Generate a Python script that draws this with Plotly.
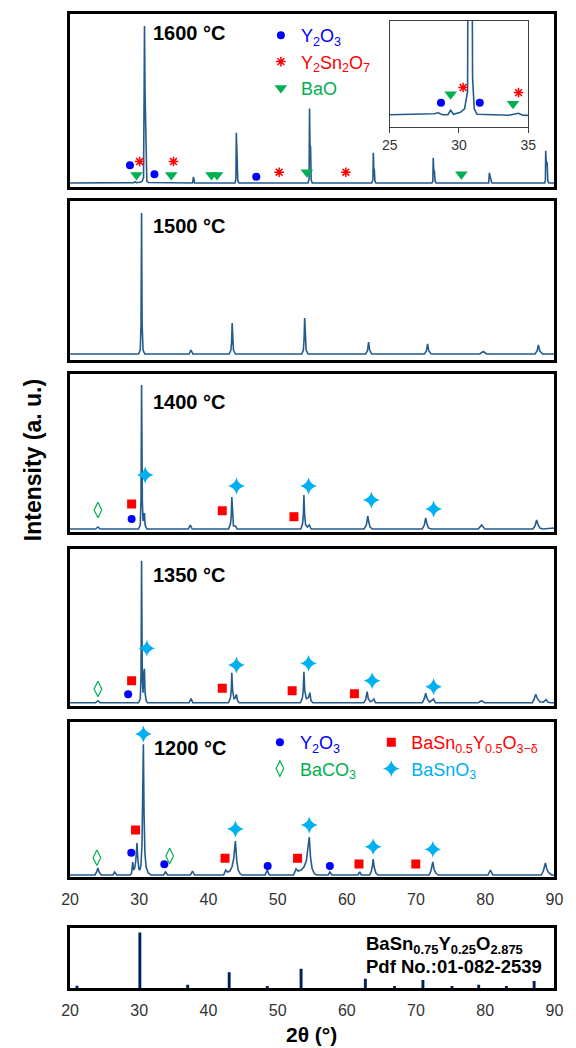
import plotly.graph_objects as go

W, H = 576, 1048
FONT = "Arial, 'Liberation Sans', sans-serif"
CURVE = "#245B8E"

# ---------------- XRD patterns: 2θ (deg) and intensity (a.u.) ----------------
tt_1600 = [20.0, 24.0, 26.3, 27.2, 28.2, 28.5, 28.8, 29.2, 29.4, 29.6, 30.1, 30.40, 30.52, 30.62,
           30.70, 30.76, 30.84, 30.90, 30.98, 31.10, 31.3, 32.5, 33.6, 34.3, 34.6, 37.7, 37.84, 38.0,
           43.85, 43.97, 44.03, 44.10, 44.17, 44.25, 44.4, 54.4, 54.55, 54.61, 54.68, 54.76, 54.85,
           55.0, 63.6, 63.77, 63.83, 63.90, 63.98, 64.06, 64.2, 72.3, 72.43, 72.49, 72.56, 72.66,
           72.75, 72.9, 80.5, 80.6, 80.7, 80.82, 80.9, 81.0, 88.6, 88.7, 88.74, 88.82, 88.95, 89.05,
           89.2, 90.0]
i_1600 = [0, 0.2, 0.4, 0.3, 0.5, 0.7, 0.3, 0.3, 1.2, 0.4, 0.8, 1.5, 3.5, 5,
          80, 156, 90, 70, 8, 1.5, 0.4, 0.3, 0.2, 0.6, 0.2, 0, 6, 0,
          0, 4, 50, 26, 24, 2, 0, 0, 4, 74, 38, 36, 3,
          0, 0, 3, 30, 15, 13, 2, 0, 0, 2, 25, 13, 12,
          2, 0, 0, 10, 6, 5, 1, 0, 0, 3, 32, 21, 20, 2,
          0, 0]

tt_1500 = [20.0, 29.9, 30.15, 30.26, 30.34, 30.42, 30.55, 30.8, 37.2, 37.48, 37.75, 43.0, 43.25,
           43.35, 43.43, 43.5, 43.62, 43.9, 53.5, 53.72, 53.82, 53.91, 54.0, 54.12, 54.4, 62.7,
           62.98, 63.15, 63.3, 63.6, 71.2, 71.5, 71.67, 71.85, 72.2, 79.2, 79.72, 80.2, 87.2, 87.5,
           87.68, 87.9, 88.3, 90.0]
i_1500 = [0, 0, 4, 30, 141, 30, 4, 0, 0, 4, 0, 0, 4,
          12, 31, 12, 4, 0, 0, 4, 14, 36, 14, 4, 0, 0,
          3, 12, 4, 0, 0, 3, 10, 3, 0, 0, 2.5, 0, 0, 3,
          9, 3, 0, 0]

tt_1400 = [20.0, 23.7, 24.03, 24.35, 29.9, 30.15, 30.26, 30.34, 30.45, 30.55, 30.68, 30.75, 30.85,
           31.1, 37.1, 37.38, 37.65, 42.9, 43.18, 43.3, 43.38, 43.48, 43.62, 43.9, 44.15, 53.35,
           53.6, 53.72, 53.8, 53.9, 54.05, 54.3, 54.57, 54.85, 62.5, 62.82, 62.95, 63.04, 63.15,
           63.35, 63.7, 70.9, 71.2, 71.4, 71.55, 71.8, 72.2, 79.0, 79.47, 79.95, 86.9, 87.2, 87.43,
           87.6, 87.9, 88.3, 90.0]
i_1400 = [0, 0, 2, 0, 0, 4, 30, 144, 28, 8, 12, 16, 4,
          0, 0, 4, 0, 0, 5, 13, 32, 13, 3, 3, 0, 0,
          5, 14, 34, 14, 4, 2, 4, 0, 0, 4, 9, 13, 8,
          2, 0, 0, 4, 11, 6, 1, 0, 0, 4, 0, 0, 3, 9,
          5, 1, 0, 1]

tt_1350 = [20.0, 23.7, 24.03, 24.35, 29.9, 30.15, 30.26, 30.34, 30.44, 30.55, 30.66, 30.75, 30.84,
           31.0, 31.2, 37.2, 37.48, 37.75, 42.9, 43.18, 43.3, 43.38, 43.5, 43.7, 43.9, 44.05, 44.2,
           44.45, 53.3, 53.58, 53.7, 53.8, 53.92, 54.15, 54.45, 54.66, 54.82, 55.1, 62.45, 62.72,
           62.94, 63.1, 63.4, 63.7, 63.92, 64.15, 70.9, 71.2, 71.4, 71.6, 71.95, 72.3, 72.54, 72.8,
           79.0, 79.47, 79.9, 86.8, 87.1, 87.3, 87.55, 87.9, 88.4, 88.8, 89.1, 89.5, 90.0]
i_1350 = [0, 0, 2, 0, 0, 4, 28, 142, 26, 10, 30, 34, 10,
          2, 0, 0, 4, 0, 0, 5, 12, 30, 12, 4, 5, 8.4, 2,
          0, 0, 5, 12, 31, 12, 4, 5, 10, 2, 0, 0, 3,
          11, 4, 1, 2, 3.7, 0, 0, 4, 9.4, 4, 0.5, 2, 3.7, 0,
          0, 2, 0, 0, 4, 8.4, 4, 1, 0.5, 3, 0.5, 0, 0]

tt_1200 = [20.0, 23.6, 23.85, 24.03, 24.2, 24.5, 26.2, 26.45, 26.75, 28.7, 28.9, 29.06, 29.18, 29.35,
           29.5, 29.68, 29.8, 29.95, 30.1, 30.25, 30.4, 30.5, 30.6, 30.7, 30.82, 31.0, 31.3, 31.7,
           33.5, 33.8, 34.1, 37.4, 37.7, 38.0, 42.2, 42.5, 42.75, 43.1, 43.4, 43.65, 43.9, 44.1,
           44.3, 44.6, 44.9, 48.2, 48.5, 48.8, 52.3, 52.67, 52.95, 53.4, 53.8, 54.15, 54.4, 54.57,
           54.75, 55.0, 55.35, 55.7, 57.3, 57.55, 57.85, 61.6, 61.86, 62.1, 63.3, 63.55, 63.7, 63.81,
           63.95, 64.2, 64.5, 71.9, 72.15, 72.3, 72.43, 72.6, 72.85, 73.2, 80.4, 80.75, 81.1, 88.1,
           88.4, 88.7, 88.9, 89.2, 89.6, 90.0]
i_1200 = [0, 0, 3, 7, 3, 0, 0, 3, 0, 0, 2, 13, 5, 7,
          14, 32, 16, 6, 5, 10, 30, 80, 130.7, 60, 22, 8, 2, 0,
          0, 3, 0, 0, 4, 0, 0, 5, 3, 4, 8, 16, 34, 14,
          5, 1, 0, 0, 5, 0, 0, 6, 4, 5, 8, 14, 26, 38,
          18, 6, 1, 0, 0, 3, 0, 0, 3, 0, 0, 4, 9, 16,
          8, 2, 0, 0, 4, 8, 13, 6, 2, 0, 0, 5, 0, 0,
          4, 12, 6, 2, 0, 0]

# Reference pattern BaSn0.75Y0.25O2.875 (Pdf 01-082-2539), relative intensity
ref_tt = [21.0, 30.09, 37.0, 43.0, 48.5, 53.39, 62.68, 66.9, 71.0, 75.2, 79.06, 83.06, 87.07]
ref_int = [4.0, 100, 5.7, 28.3, 3.5, 34.7, 16.8, 3.5, 14.4, 3.5, 5.7, 3.5, 12.7]

# ---------------- Phase markers: (2θ, intensity) per pattern ----------------
m1600_y2o3_tt, m1600_y2o3_i = [28.66, 32.2, 46.92], [17.7, 8.7, 6.3]
m1600_y2sn2o7_tt, m1600_y2sn2o7_i = [30.06, 34.95, 50.22, 59.86], [21.3, 21.3, 10.7, 10.7]
m1600_bao_tt, m1600_bao_i = [29.6, 34.63, 40.44, 41.24, 54.23, 76.55], [8, 8, 8, 8, 10.7, 8.7]

# zoomed view of the 1600 °C pattern, 25-35°
ins_y2o3_tt, ins_y2o3_i = [28.7, 31.5], [2.76, 2.76]
ins_bao_tt, ins_bao_i = [29.4, 33.9], [4.46, 2.55]
ins_y2sn2o7_tt, ins_y2sn2o7_i = [30.3, 34.3], [5.84, 4.81]

m1400_baco3_tt, m1400_baco3_i = [24.03], [19]
m1400_bsy_tt, m1400_bsy_i = [28.9, 42.0, 52.36], [25, 18.3, 12.3]
m1400_y2o3_tt, m1400_y2o3_i = [28.9], [10]
m1400_bso_tt, m1400_bso_i = [30.86, 44.05, 54.47, 63.55, 72.54], [54, 43, 43, 29, 20]

m1350_baco3_tt, m1350_baco3_i = [24.03], [13.7]
m1350_y2o3_tt, m1350_y2o3_i = [28.4], [8.4]
m1350_bsy_tt, m1350_bsy_i = [28.9, 42.0, 52.1, 61.1], [22, 14.4, 12, 9]
m1350_bso_tt, m1350_bso_i = [31.1, 44.05, 54.47, 63.66, 72.54], [54.4, 37.7, 39.4, 22, 16]

m1200_y2o3_tt, m1200_y2o3_i = [28.85, 33.63, 48.56, 57.55], [22.3, 10.7, 9, 9]
m1200_bsy_tt, m1200_bsy_i = [29.47, 42.4, 52.88, 61.76, 69.97], [45, 16.7, 16.7, 11, 11]
m1200_baco3_tt, m1200_baco3_i = [23.88, 34.4], [17.3, 19]
m1200_bso_tt, m1200_bso_i = [30.6, 43.9, 54.57, 63.81, 72.43], [141, 46, 50, 28.3, 25.7]

# ---------------- styles ----------------
BLUE, RED, GREEN, CYAN = "#0000FF", "#FF0000", "#00B050", "#00B0F0"
STY = {
    "y2o3": dict(symbol="circle", size=8, color=BLUE),
    "y2sn2o7": dict(symbol="asterisk-open", size=8, color=RED, line=dict(color=RED, width=1.5)),
    "bao": dict(symbol="triangle-down", size=11, color=GREEN),
    "bsy": dict(symbol="square", size=9, color=RED),
    "baco3": dict(symbol="diamond-tall-open", size=11, color=GREEN, line=dict(color=GREEN, width=1.2)),
    "bso": dict(symbol="star-diamond", size=12, color=CYAN),
}
NAMES = {
    "y2o3": "<span style='color:#0000FF'>Y<sub>2</sub>O<sub>3</sub></span>",
    "y2sn2o7": "<span style='color:#FF0000'>Y<sub>2</sub>Sn<sub>2</sub>O<sub>7</sub></span>",
    "bao": "<span style='color:#00B050'>BaO</span>",
    "bsy": "<span style='color:#FF0000'>BaSn<sub>0.5</sub>Y<sub>0.5</sub>O<sub>3\u2212\u03b4</sub></span>",
    "baco3": "<span style='color:#00B050'>BaCO<sub>3</sub></span>",
    "bso": "<span style='color:#00B0F0'>BaSnO<sub>3</sub></span>",
}

fig = go.Figure()


def curve(tt, inten, k):
    fig.add_trace(go.Scatter(x=tt, y=inten, mode="lines", line=dict(color=CURVE, width=1.6),
                             xaxis=f"x{k}", yaxis=f"y{k}", showlegend=False, hoverinfo="skip"))


def marks(tt, inten, k, phase, legend=None, group=None):
    fig.add_trace(go.Scatter(x=tt, y=inten, mode="markers", marker=STY[phase], name=NAMES[phase],
                             xaxis=f"x{k}", yaxis=f"y{k}", showlegend=legend is not None,
                             legend=legend or "legend", legendgroup=group, hoverinfo="skip"))


curve(tt_1600, i_1600, "")
curve(tt_1500, i_1500, 2)
curve(tt_1400, i_1400, 3)
curve(tt_1350, i_1350, 4)
curve(tt_1200, i_1200, 5)
curve(tt_1600, i_1600, 7)

marks(m1600_y2o3_tt, m1600_y2o3_i, "", "y2o3", "legend", "a")
marks(m1600_y2sn2o7_tt, m1600_y2sn2o7_i, "", "y2sn2o7", "legend", "b")
marks(m1600_bao_tt, m1600_bao_i, "", "bao", "legend", "c")

marks(ins_y2o3_tt, ins_y2o3_i, 7, "y2o3")
marks(ins_bao_tt, ins_bao_i, 7, "bao")
marks(ins_y2sn2o7_tt, ins_y2sn2o7_i, 7, "y2sn2o7")

marks(m1400_baco3_tt, m1400_baco3_i, 3, "baco3")
marks(m1400_bsy_tt, m1400_bsy_i, 3, "bsy")
marks(m1400_y2o3_tt, m1400_y2o3_i, 3, "y2o3")
marks(m1400_bso_tt, m1400_bso_i, 3, "bso")

marks(m1350_baco3_tt, m1350_baco3_i, 4, "baco3")
marks(m1350_y2o3_tt, m1350_y2o3_i, 4, "y2o3")
marks(m1350_bsy_tt, m1350_bsy_i, 4, "bsy")
marks(m1350_bso_tt, m1350_bso_i, 4, "bso")

marks(m1200_y2o3_tt, m1200_y2o3_i, 5, "y2o3", "legend2", "d")
marks(m1200_baco3_tt, m1200_baco3_i, 5, "baco3", "legend2", "e")
marks(m1200_bsy_tt, m1200_bsy_i, 5, "bsy", "legend3", "f")
marks(m1200_bso_tt, m1200_bso_i, 5, "bso", "legend3", "g")

fig.add_trace(go.Bar(x=ref_tt, y=ref_int, width=0.42, marker=dict(color="#002060", line=dict(width=0)),
                     xaxis="x6", yaxis="y6", showlegend=False, hoverinfo="skip"))

# ---------------- axes ----------------
def px_x(p):
    return p / W


def px_y(p):
    return 1 - p / H


XL, XR = 63, 563
panels = {  # key: (top px, bottom px, y-range)
    "": (14, 187, [-4, 168]),
    "2": (201, 360, [-6, 153]),
    "3": (374, 532, [-3, 155]),
    "4": (549, 706, [-3.3, 153.7]),
    "5": (722, 877, [-2, 153]),
    "6": (928, 988, [0, 108]),
}
tickfont = dict(family=FONT, size=16, color="#333333")
layout_axes = {}
for k, (top, bot, yr) in panels.items():
    labelled = k in ("5", "6")
    layout_axes[f"xaxis{k}"] = dict(
        domain=[px_x(XL), px_x(XR)], range=[20, 90], anchor=f"y{k}",
        showline=True, mirror=True, linecolor="black", linewidth=2.5,
        showgrid=False, zeroline=False, ticks="",
        showticklabels=labelled, tickvals=[20, 30, 40, 50, 60, 70, 80, 90],
        tickfont=tickfont, ticklabelstandoff=6)
    layout_axes[f"yaxis{k}"] = dict(
        domain=[px_y(bot), px_y(top)], range=yr, anchor=f"x{k}",
        showline=True, mirror=True, linecolor="black", linewidth=2.5,
        showgrid=False, zeroline=False, showticklabels=False, ticks="")

layout_axes["xaxis7"] = dict(
    domain=[px_x(393), px_x(536)], range=[25, 35], anchor="y7",
    showline=True, mirror=True, linecolor="#404040", linewidth=1.2,
    showgrid=False, zeroline=False, ticks="outside", ticklen=5, tickcolor="#404040",
    tickvals=[25, 30, 35], tickfont=dict(family=FONT, size=14, color="#333333"))
layout_axes["yaxis7"] = dict(
    domain=[px_y(127), px_y(21)], range=[-2.2, 19.4], anchor="x7",
    showline=True, mirror=True, linecolor="#404040", linewidth=1.2,
    showgrid=False, zeroline=False, showticklabels=False, ticks="")

# ---------------- text ----------------
ann = []
for txt, x, y in [("1600 °C", 147, 32.7), ("1500 °C", 147, 225.7), ("1400 °C", 147, 401.7),
                  ("1350 °C", 147, 575), ("1200 °C", 147.5, 748.3)]:
    ann.append(dict(text=f"<b>{txt}</b>", x=px_x(x), y=px_y(y), xref="paper", yref="paper",
                    xanchor="left", yanchor="middle", showarrow=False,
                    font=dict(family=FONT, size=20, color="black")))
ann.append(dict(text="<b>Intensity (a. u.)</b>", x=px_x(25), y=px_y(460), xref="paper", yref="paper",
                textangle=-90, showarrow=False, xanchor="center", yanchor="middle",
                font=dict(family=FONT, size=23, color="black")))
ann.append(dict(text="<b>2\u03b8 (°)</b>", x=px_x(312), y=px_y(1048), xref="paper", yref="paper",
                showarrow=False, xanchor="center", yanchor="bottom",
                font=dict(family=FONT, size=21, color="black")))
ann.append(dict(text="<b>BaSn<sub>0.75</sub>Y<sub>0.25</sub>O<sub>2.875</sub></b>", x=px_x(366), y=px_y(945),
                xref="paper", yref="paper", showarrow=False, xanchor="left", yanchor="middle",
                font=dict(family=FONT, size=18.5, color="black")))
ann.append(dict(text="<b>Pdf No.:01-082-2539</b>", x=px_x(366), y=px_y(966.7),
                xref="paper", yref="paper", showarrow=False, xanchor="left", yanchor="middle",
                font=dict(family=FONT, size=18.5, color="black")))

legfont = dict(family=FONT, size=18, color="black")
leg_common = dict(bgcolor="rgba(0,0,0,0)", borderwidth=0, font=legfont, xanchor="left", yanchor="top",
                  itemsizing="trace", tracegroupgap=0, orientation="v")

fig.update_layout(
    width=W, height=H, margin=dict(l=0, r=0, t=0, b=0),
    paper_bgcolor="white", plot_bgcolor="white",
    showlegend=True,
    legend=dict(x=px_x(260), y=px_y(17), **leg_common),
    legend2=dict(x=px_x(259), y=px_y(724), **leg_common),
    legend3=dict(x=px_x(374), y=px_y(724), **leg_common),
    annotations=ann,
    **layout_axes,
)

fig.write_html("out.html")
